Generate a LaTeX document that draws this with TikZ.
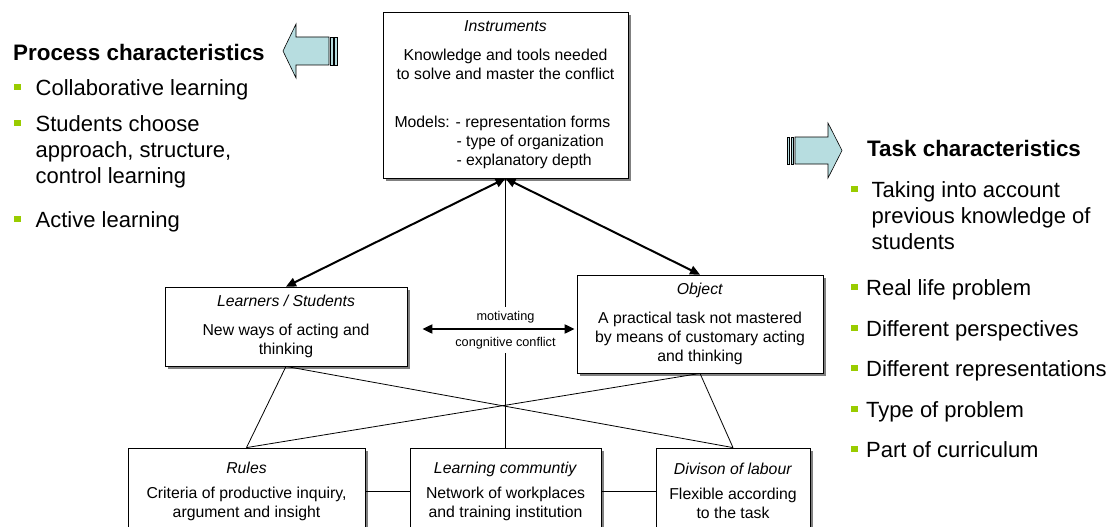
\documentclass[tikz,border=0pt]{standalone}
\usepackage{fontspec}
\setmainfont{Liberation Sans}
\usetikzlibrary{arrows.meta,shadows}
\definecolor{bulletgreen}{HTML}{99CC00}
\definecolor{arrowblue}{HTML}{B7DDE0}
\definecolor{shadowgray}{HTML}{808080}
\newcommand{\boxfont}{\fontsize{15.8}{19}\selectfont}
\newcommand{\smallfont}{\fontsize{12.7}{15}\selectfont}
\newcommand{\listfont}{\fontsize{22}{26}\selectfont}
\newcommand{\headfont}{\fontsize{22.4}{27}\selectfont\bfseries}
\newcommand{\greenbullet}{\textcolor{bulletgreen}{\rule[5pt]{6.5pt}{6.5pt}}}

\begin{document}
\begin{tikzpicture}[
        x=1pt,
        y=-1pt,
        box/.style={draw, line width=0.8pt, fill=white, align=center, font=\boxfont, inner sep=2pt,
            drop shadow={shadow xshift=3pt, shadow yshift=-3pt, fill=shadowgray, opacity=1}},
        linkline/.style={line width=0.8pt},
        bothway/.style={{Triangle[length=10pt,width=9pt]}-{Triangle[length=10pt,width=9pt]}, line width=2pt},
        blockarrow/.style={draw, line width=0.6pt, fill=arrowblue},
        conflicttext/.style={font=\smallfont, inner sep=4pt},
        listitem/.style={anchor=base west, inner sep=0pt, font=\listfont},
        listhead/.style={anchor=base west, inner sep=0pt, font=\headfont}
    ]
        \useasboundingbox (0,0) rectangle (1113,527);

        % activity system boxes
        \node[box, minimum width=245pt, minimum height=166pt] (instruments) at (505.5,95)
            {\textit{Instruments}\\[10pt]
             Knowledge and tools needed\\
             to solve and master the conflict\\[29pt]
             \makebox[222pt][l]{Models: - representation forms}\\
             \makebox[222pt][l]{\hspace*{62pt}- type of organization}\\
             \makebox[222pt][l]{\hspace*{62pt}- explanatory depth}};
        \node[box, minimum width=242pt, minimum height=79pt] (learners) at (286,326.5)
            {\textit{Learners / Students}\\[10pt]New ways of acting and\\thinking};
        \node[box, minimum width=246pt, minimum height=98pt] (object) at (700,324)
            {\textit{Object}\\[10pt]A practical task not mastered\\by means of customary acting\\and thinking};
        \node[box, minimum width=237pt, minimum height=86pt] (rules) at (246.5,491)
            {\textit{Rules}\\[6pt]Criteria of productive inquiry,\\argument and insight};
        \node[box, minimum width=191pt, minimum height=86pt] (learning) at (505.5,491)
            {\textit{Learning communtiy}\\[6pt]Network of workplaces\\and training institution};
        \node[box, minimum width=154pt, minimum height=86pt] (division) at (733,491)
            {\textit{Divison of labour}\\[6pt]Flexible according\\to the task};

        \node[conflicttext] (motiv) at (505.5,317) {motivating};
        \node[conflicttext] (congn) at (505.5,343) {congnitive conflict};
        \coordinate (conflictmid) at (505.5,329);

        % connectors
        \draw[bothway] (instruments.south) -- (learners.north);
        \draw[bothway] (instruments.south) -- (object.north);
        \draw[bothway, shorten <=15pt, shorten >=2pt] (learners.east |- conflictmid) -- (object.west |- conflictmid);
        \draw[linkline] (instruments.south) -- (motiv.north);
        \draw[linkline] (congn.south) -- (learning.north);
        \draw[linkline] (learners.south) -- (rules.north);
        \draw[linkline] (learners.south) -- (division.north);
        \draw[linkline] (object.south) -- (rules.north);
        \draw[linkline] (object.south) -- (division.north);
        \draw[linkline] (rules.east) -- (learning.west);
        \draw[linkline] (learning.east) -- (division.west);

        % striped block arrows
        \path[blockarrow] (329,37) -- (296,37) -- (296,24) -- (283,51) -- (296,78) -- (296,65) -- (329,65) -- cycle;
        \path[blockarrow] (330.5,37) rectangle (333,65);
        \path[blockarrow] (334.5,37) rectangle (337,65);
        \path[blockarrow] (795,137) -- (828,137) -- (828,123) -- (842,150.5) -- (828,178) -- (828,164) -- (795,164) -- cycle;
        \path[blockarrow] (787,137) rectangle (789.5,164);
        \path[blockarrow] (791,137) rectangle (793.5,164);

        % process characteristics
        \node[listhead] (prochead) at (13,61) {Process characteristics};
        \node[listitem] (procone) at (14,95) {\greenbullet\hspace{15pt}Collaborative learning};
        \node[listitem] (proctwo) at (14,131) {\greenbullet\hspace{15pt}\begin{tabular}[t]{@{}l@{}}Students choose\\approach, structure,\\control learning\end{tabular}};
        \node[listitem] (procthree) at (14,227) {\greenbullet\hspace{15pt}Active learning};

        % task characteristics
        \node[listhead] (taskhead) at (867,156) {Task characteristics};
        \node[listitem] (taskone) at (851,197) {\greenbullet\hspace{14pt}\begin{tabular}[t]{@{}l@{}}Taking into account\\previous knowledge of\\students\end{tabular}};
        \node[listitem] (tasktwo) at (851,295) {\greenbullet\hspace{8.5pt}Real life problem};
        \node[listitem] (taskthree) at (851,336) {\greenbullet\hspace{8.5pt}Different perspectives};
        \node[listitem] (taskfour) at (851,376) {\greenbullet\hspace{8.5pt}Different representations};
        \node[listitem] (taskfive) at (851,417) {\greenbullet\hspace{8.5pt}Type of problem};
        \node[listitem] (tasksix) at (851,457) {\greenbullet\hspace{8.5pt}Part of curriculum};
    \end{tikzpicture}
\end{document}
